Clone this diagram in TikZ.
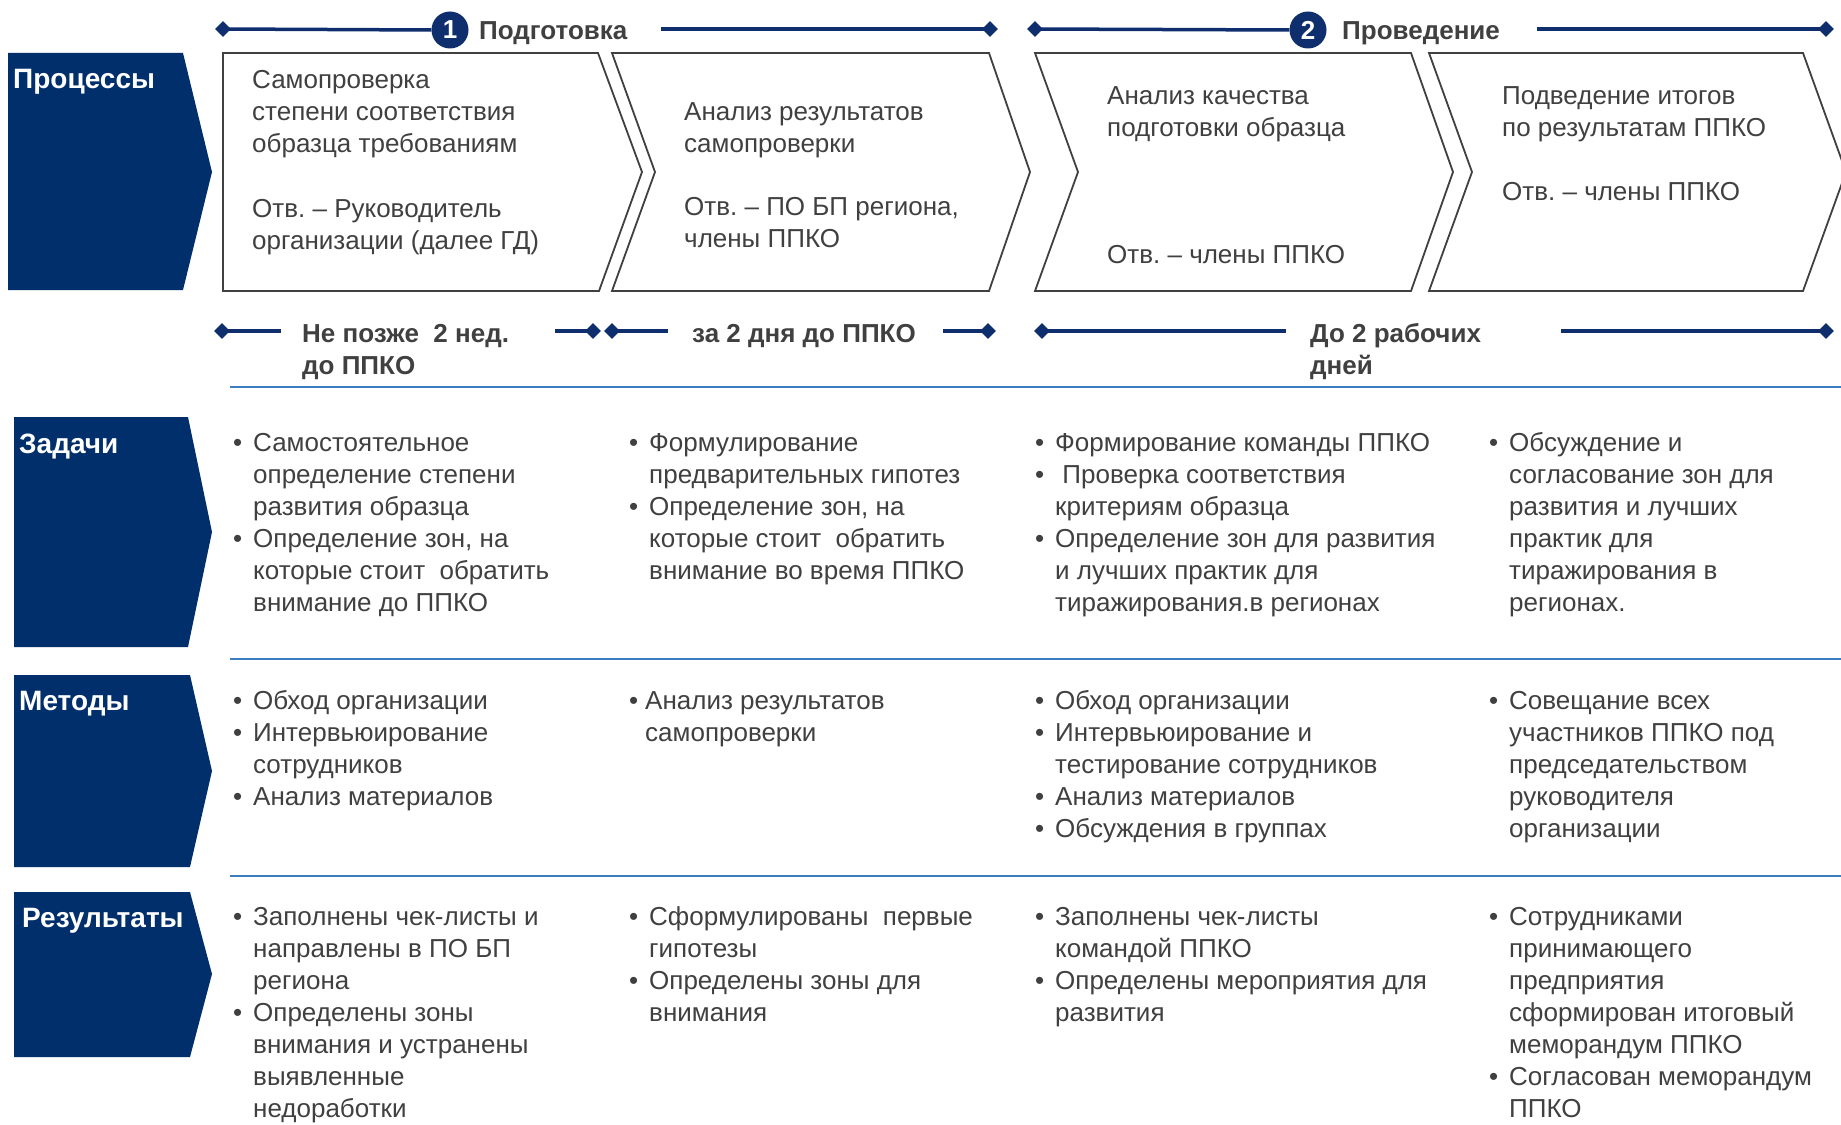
\documentclass[tikz,border=0pt]{standalone}
\usepackage{fontspec}
\setmainfont{Liberation Sans}
\usetikzlibrary{shapes.geometric}
\definecolor{navy}{HTML}{002F6C}
\definecolor{tlblue}{HTML}{0E2E6E}
\definecolor{tgray}{HTML}{404040}
\definecolor{sepblue}{HTML}{3B7DC1}
\newcommand\fs{\fontsize{26}{32}\selectfont}
\newcommand\fl{\fontsize{28}{32}\selectfont}
\newcommand\mybul{\makebox[20pt][l]{•}}
\newcommand\myind{\hspace*{20pt}}
\frenchspacing
\tikzset{
  lbl/.style={font=\fl\bfseries, text=white, anchor=north west, inner sep=0},
  txt/.style={font=\fs, text=tgray, anchor=north west, inner sep=0, align=left},
  ttl/.style={font=\fs\bfseries, text=tgray, anchor=north west, inner sep=0, align=left},
  chev/.style={draw=tgray, line width=1.8pt, fill=white, line join=miter},
  rowbox/.style={fill=navy},
  sepline/.style={draw=sepblue, line width=2.5pt},
  tline/.style={draw=tlblue, line width=3.5pt},
  dia/.style={diamond, fill=tlblue, inner sep=0, minimum size=16},
  numc/.style={circle, fill=tlblue, text=white, font=\fs\bfseries, minimum size=37, inner sep=0},
}
\begin{document}
\frenchspacing
\begin{tikzpicture}[x=1pt, y=-1pt]
\useasboundingbox (0,0) rectangle (1841,1124);
\fill[white] (0,0) rectangle (1841,1124);
\begin{scope}
\clip (0,0) rectangle (1841,1124);

% ---------- row label boxes ----------
\fill[rowbox] (8,53) -- (183,53) -- (212,172) -- (183,290) -- (8,290) -- cycle;
\fill[rowbox] (14,417) -- (188,417) -- (212,532) -- (188,647) -- (14,647) -- cycle;
\fill[rowbox] (14,675) -- (190,675) -- (212,771) -- (190,867) -- (14,867) -- cycle;
\fill[rowbox] (14,892) -- (190,892) -- (212,974) -- (190,1057) -- (14,1057) -- cycle;
\node[lbl] (lproc) at (13,65.6) {\strut Процессы};
\node[lbl] (ltask) at (19,430.6) {\strut Задачи};
\node[lbl] (lmeth) at (19,687.6) {\strut Методы};
\node[lbl] (lres)  at (22,904.6) {\strut Результаты};

% ---------- chevrons ----------
\draw[chev] (223,53) -- (598,53) -- (642,172) -- (599,291) -- (223,291) -- cycle;
\draw[chev] (612,53) -- (989,53) -- (1030,172) -- (989,291) -- (612,291) -- (655,172) -- cycle;
\draw[chev] (1035,53) -- (1411,53) -- (1453,172) -- (1411,291) -- (1035,291) -- (1078,172) -- cycle;
\draw[chev] (1429,53) -- (1803,53) -- (1846,172) -- (1803,291) -- (1429,291) -- (1472,172) -- cycle;

\node[txt] (p1) at (252,65.6) {\strut Самопроверка\\ степени соответствия\\ образца требованиям\\[33pt] Отв. – Руководитель\\ организации (далее ГД)};
\node[txt] (p2) at (684,97.6) {\strut Анализ результатов\\ самопроверки\\[31pt] Отв. – ПО БП региона,\\ члены ППКО};
\node[txt] (p3) at (1107,81.6) {\strut Анализ качества\\ подготовки образца};
\node[txt] (p3b) at (1107,240.6) {\strut Отв. – члены ППКО};
\node[txt] (p4) at (1502,81.6) {\strut Подведение итогов\\ по результатам ППКО\\[32pt] Отв. – члены ППКО};

% ---------- top timeline ----------
\node[dia] (ta1) at (223,29) {};
\node[numc] (n1) at (450,30) {1};
\node[ttl] (h1) at (479,16.6) {\strut Подготовка};
\coordinate (ta1e) at (661,29);
\node[dia] (ta2) at (990,29) {};
\draw[tline] (ta1.center) -- (n1.west);
\draw[tline] (ta1e) -- (ta2.center);

\node[dia] (tb1) at (1035,29) {};
\node[numc] (n2) at (1308,30) {2};
\node[ttl] (h2) at (1342,16.6) {\strut Проведение};
\coordinate (tb1e) at (1537,29);
\node[dia] (tb2) at (1826,29) {};
\draw[tline] (tb1.center) -- (n2.west);
\draw[tline] (tb1e) -- (tb2.center);

% ---------- bottom timeline ----------
\node[dia] (da1) at (222,331) {};
\coordinate (da1e) at (281,331);
\node[ttl] (dt1) at (302,319.6) {\strut Не позже\ \ 2 нед.\\ до ППКО};
\coordinate (da2s) at (555,331);
\node[dia] (da2) at (593,331) {};
\draw[tline] (da1.center) -- (da1e);
\draw[tline] (da2s) -- (da2.center);

\node[dia] (db1) at (612,331) {};
\coordinate (db1e) at (668,331);
\node[ttl] (dt2) at (692,319.6) {\strut за 2 дня до ППКО};
\coordinate (db2s) at (943,331);
\node[dia] (db2) at (988,331) {};
\draw[tline] (db1.center) -- (db1e);
\draw[tline] (db2s) -- (db2.center);

\node[dia] (dc1) at (1042,331) {};
\coordinate (dc1e) at (1286,331);
\node[ttl] (dt3) at (1310,319.6) {\strut До 2 рабочих\\ дней};
\coordinate (dc2s) at (1561,331);
\node[dia] (dc2) at (1826,331) {};
\draw[tline] (dc1.center) -- (dc1e);
\draw[tline] (dc2s) -- (dc2.center);

% ---------- separators ----------
\coordinate (s1a) at (230,387); \coordinate (s1b) at (1841,387);
\coordinate (s2a) at (230,659); \coordinate (s2b) at (1841,659);
\coordinate (s3a) at (230,876); \coordinate (s3b) at (1841,876);
\draw[sepline] (s1a) -- (s1b);
\draw[sepline] (s2a) -- (s2b);
\draw[sepline] (s3a) -- (s3b);

% ---------- Задачи ----------
\node[txt] (z1) at (233,428.6) {\strut\mybul Самостоятельное\\ \myind определение степени\\ \myind развития образца\\ \mybul Определение зон, на\\ \myind которые стоит\ \ обратить\\ \myind внимание до ППКО};
\node[txt] (z2) at (629,428.6) {\strut\mybul Формулирование\\ \myind предварительных гипотез\\ \mybul Определение зон, на\\ \myind которые стоит\ \ обратить\\ \myind внимание во время ППКО};
\node[txt] (z3) at (1035,428.6) {\strut\mybul Формирование команды ППКО\\ \mybul\ Проверка соответствия\\ \myind критериям образца\\ \mybul Определение зон для развития\\ \myind и лучших практик для\\ \myind тиражирования.в регионах};
\node[txt] (z4) at (1489,428.6) {\strut\mybul Обсуждение и\\ \myind согласование зон для\\ \myind развития и лучших\\ \myind практик для\\ \myind тиражирования в\\ \myind регионах.};

% ---------- Методы ----------
\node[txt] (m1) at (233,686.6) {\strut\mybul Обход организации\\ \mybul Интервьюирование\\ \myind сотрудников\\ \mybul Анализ материалов};
\node[txt] (m2) at (629,686.6) {\strut\makebox[16pt][l]{•}Анализ результатов\\ \hspace*{16pt}самопроверки};
\node[txt] (m3) at (1035,686.6) {\strut\mybul Обход организации\\ \mybul Интервьюирование и\\ \myind тестирование сотрудников\\ \mybul Анализ материалов\\ \mybul Обсуждения в группах};
\node[txt] (m4) at (1489,686.6) {\strut\mybul Совещание всех\\ \myind участников ППКО под\\ \myind председательством\\ \myind руководителя\\ \myind организации};

% ---------- Результаты ----------
\node[txt] (r1) at (233,903.2) {\strut\mybul Заполнены чек-листы и\\ \myind направлены в ПО БП\\ \myind региона\\ \mybul Определены зоны\\ \myind внимания и устранены\\ \myind выявленные\\ \myind недоработки};
\node[txt] (r2) at (629,903.2) {\strut\mybul Сформулированы\ \ первые\\ \myind гипотезы\\ \mybul Определены зоны для\\ \myind внимания};
\node[txt] (r3) at (1035,903.2) {\strut\mybul Заполнены чек-листы\\ \myind командой ППКО\\ \mybul Определены мероприятия для\\ \myind развития};
\node[txt] (r4) at (1489,903.2) {\strut\mybul Сотрудниками\\ \myind принимающего\\ \myind предприятия\\ \myind сформирован итоговый\\ \myind меморандум ППКО\\ \mybul Согласован меморандум\\ \myind ППКО};
\end{scope}
\end{tikzpicture}
\end{document}
